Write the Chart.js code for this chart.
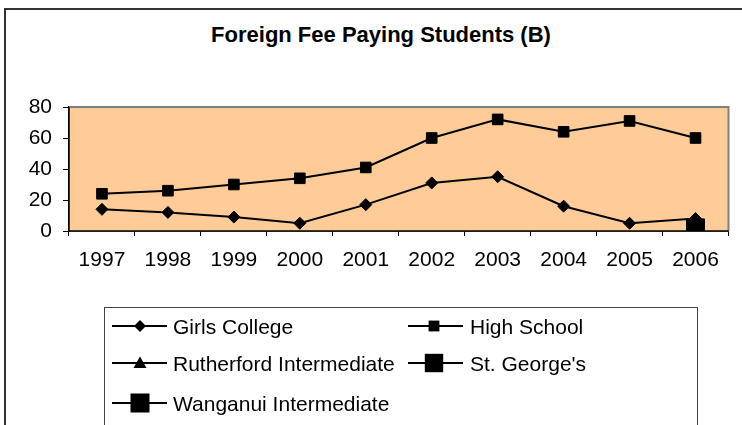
<!DOCTYPE html>
<html>
<head>
<meta charset="utf-8">
<script src="https://cdn.jsdelivr.net/npm/chart.js@4/dist/chart.umd.min.js"></script>
<style>
  html, body { margin:0; padding:0; background:#fff; overflow:hidden; }
  body { width:742px; height:425px; position:relative; font-family:"Liberation Sans", Arial, sans-serif; }
  #wrap { position:absolute; left:0; top:0; width:742px; height:425px; }
  #frame { position:absolute; left:4px; top:8px; width:900px; height:900px; border:2px solid #333; box-sizing:border-box; }
  #title { position:absolute; left:81px; width:600px; top:24px; text-align:center; font-weight:bold; font-size:22px; line-height:22px; color:#000; white-space:nowrap; }
  #legend { position:absolute; left:104px; top:307px; width:594px; height:130px; border:1px solid #444; box-sizing:border-box; }
  .lg-sym { position:absolute; }
  .lg-txt { position:absolute; font-size:21px; line-height:21px; color:#000; white-space:nowrap; }
</style>
</head>
<body>
<div id="frame"></div>
<div id="title">Foreign Fee Paying Students (B)</div>
<div id="wrap"><canvas id="c" width="742" height="425"></canvas></div>
<div id="legend"></div>
<div id="legendItems"></div>
<script>
// ---- data ----
const years = ["1997","1998","1999","2000","2001","2002","2003","2004","2005","2006"];
const girlsCollege = [14, 12, 9, 5, 17, 31, 35, 16, 5, 8];
const highSchool = [24, 26, 30, 34, 41, 60, 72, 64, 71, 60];
const rutherfordIntermediate = [null, null, null, null, null, null, null, null, null, 1];
const stGeorges = [null, null, null, null, null, null, null, null, null, 2];
const wanganuiIntermediate = [null, null, null, null, null, null, null, null, null, 2];
const seriesNames = ["Girls College", "High School", "Rutherford Intermediate", "St. George's", "Wanganui Intermediate"];
const yTicks = [0, 20, 40, 60, 80];

const FONT = '"Liberation Sans", Arial, sans-serif';

const plotBg = {
  id: 'plotBg',
  beforeDatasetsDraw(chart) {
    const a = chart.chartArea, ctx = chart.ctx;
    ctx.save();
    ctx.fillStyle = '#FFCC99';
    ctx.fillRect(a.left, a.top, a.right - a.left, a.bottom - a.top);
    ctx.strokeStyle = '#808080';
    ctx.lineWidth = 2;
    ctx.beginPath();
    ctx.moveTo(a.left, a.top);
    ctx.lineTo(a.right, a.top);
    ctx.lineTo(a.right, a.bottom);
    ctx.stroke();
    // redraw axis lines on top of fill
    ctx.strokeStyle = '#000';
    ctx.lineWidth = 1.5;
    ctx.beginPath();
    ctx.moveTo(a.left, a.top);
    ctx.lineTo(a.left, a.bottom);
    ctx.lineTo(a.right, a.bottom);
    ctx.stroke();
    ctx.restore();
  }
};

function ds(label, data, style, radius, order) {
  return {
    label, data, order,
    borderColor: '#000', backgroundColor: '#000',
    borderWidth: 2,
    pointStyle: style, pointRadius: radius, pointHoverRadius: radius,
    pointBackgroundColor: '#000', pointBorderColor: '#000', pointBorderWidth: 1,
    tension: 0, spanGaps: false
  };
}

new Chart(document.getElementById('c'), {
  type: 'line',
  data: {
    labels: years,
    datasets: [
      ds(seriesNames[0], girlsCollege, 'rectRot', 6, 5),
      ds(seriesNames[1], highSchool, 'rect', 7.5, 4),
      ds(seriesNames[2], rutherfordIntermediate, 'triangle', 6.5, 3),
      ds(seriesNames[3], stGeorges, 'rect', 12.5, 2),
      ds(seriesNames[4], wanganuiIntermediate, 'rect', 12.5, 1)
    ]
  },
  options: {
    responsive: false,
    animation: false,
    events: [],
    layout: { padding: { top: 107, right: 5, bottom: 0, left: 0 } },
    plugins: { legend: { display: false }, title: { display: false }, tooltip: { enabled: false } },
    scales: {
      x: {
        type: 'category',
        offset: true,
        afterFit(s) { s.height = 194; },
        grid: { display: true, offset: true, drawOnChartArea: false, drawTicks: true, tickLength: 5, color: '#000', lineWidth: 1 },
        border: { display: true, color: '#000', width: 1.5 },
        ticks: { color: '#000', font: { family: FONT, size: 21 }, padding: 12, maxRotation: 0, autoSkip: false }
      },
      y: {
        min: 0, max: 80,
        afterFit(s) { s.width = 69; },
        afterBuildTicks(s) { s.ticks = yTicks.map(v => ({ value: v })); },
        grid: { display: true, drawOnChartArea: false, drawTicks: true, tickLength: 6, color: '#000', lineWidth: 1 },
        border: { display: true, color: '#000', width: 1.5 },
        ticks: { color: '#000', font: { family: FONT, size: 21 }, padding: 11 }
      }
    }
  },
  plugins: [plotBg]
});

// ---- HTML legend ----
const legendLayout = [
  { name: seriesNames[0], sym: 'diamond', size: 6,   lineX: 112, markX: 140, textX: 173, y: 326 },
  { name: seriesNames[1], sym: 'square',  size: 5.4, lineX: 408, markX: 434, textX: 470, y: 326 },
  { name: seriesNames[2], sym: 'triangle',size: 6.5, lineX: 112, markX: 140, textX: 173, y: 363 },
  { name: seriesNames[3], sym: 'square',  size: 9.2, lineX: 408, markX: 434, textX: 470, y: 363 },
  { name: seriesNames[4], sym: 'square',  size: 9.5, lineX: 112, markX: 140, textX: 173, y: 403 }
];
const holder = document.getElementById('legendItems');
legendLayout.forEach(it => {
  const w = 55, h = 26;
  const mx = it.markX - it.lineX, my = h / 2, s = it.size;
  let shape;
  if (it.sym === 'diamond') shape = `<polygon points="${mx-s},${my} ${mx},${my-s} ${mx+s},${my} ${mx},${my+s}" fill="#000"/>`;
  else if (it.sym === 'square') shape = `<rect x="${mx-s}" y="${my-s}" width="${2*s}" height="${2*s}" fill="#000"/>`;
  else shape = `<polygon points="${mx},${my-s} ${mx+s},${my+s*0.75} ${mx-s},${my+s*0.75}" fill="#000"/>`;
  const svg = document.createElement('div');
  svg.className = 'lg-sym';
  svg.style.left = it.lineX + 'px';
  svg.style.top = (it.y - h / 2) + 'px';
  svg.innerHTML = `<svg width="${w}" height="${h}" xmlns="http://www.w3.org/2000/svg"><line x1="0" y1="${my}" x2="${w}" y2="${my}" stroke="#000" stroke-width="2"/>${shape}</svg>`;
  holder.appendChild(svg);
  const t = document.createElement('div');
  t.className = 'lg-txt';
  t.style.left = it.textX + 'px';
  t.style.top = (it.y - 10.5) + 'px';
  t.textContent = it.name;
  holder.appendChild(t);
});
</script>
</body>
</html>
